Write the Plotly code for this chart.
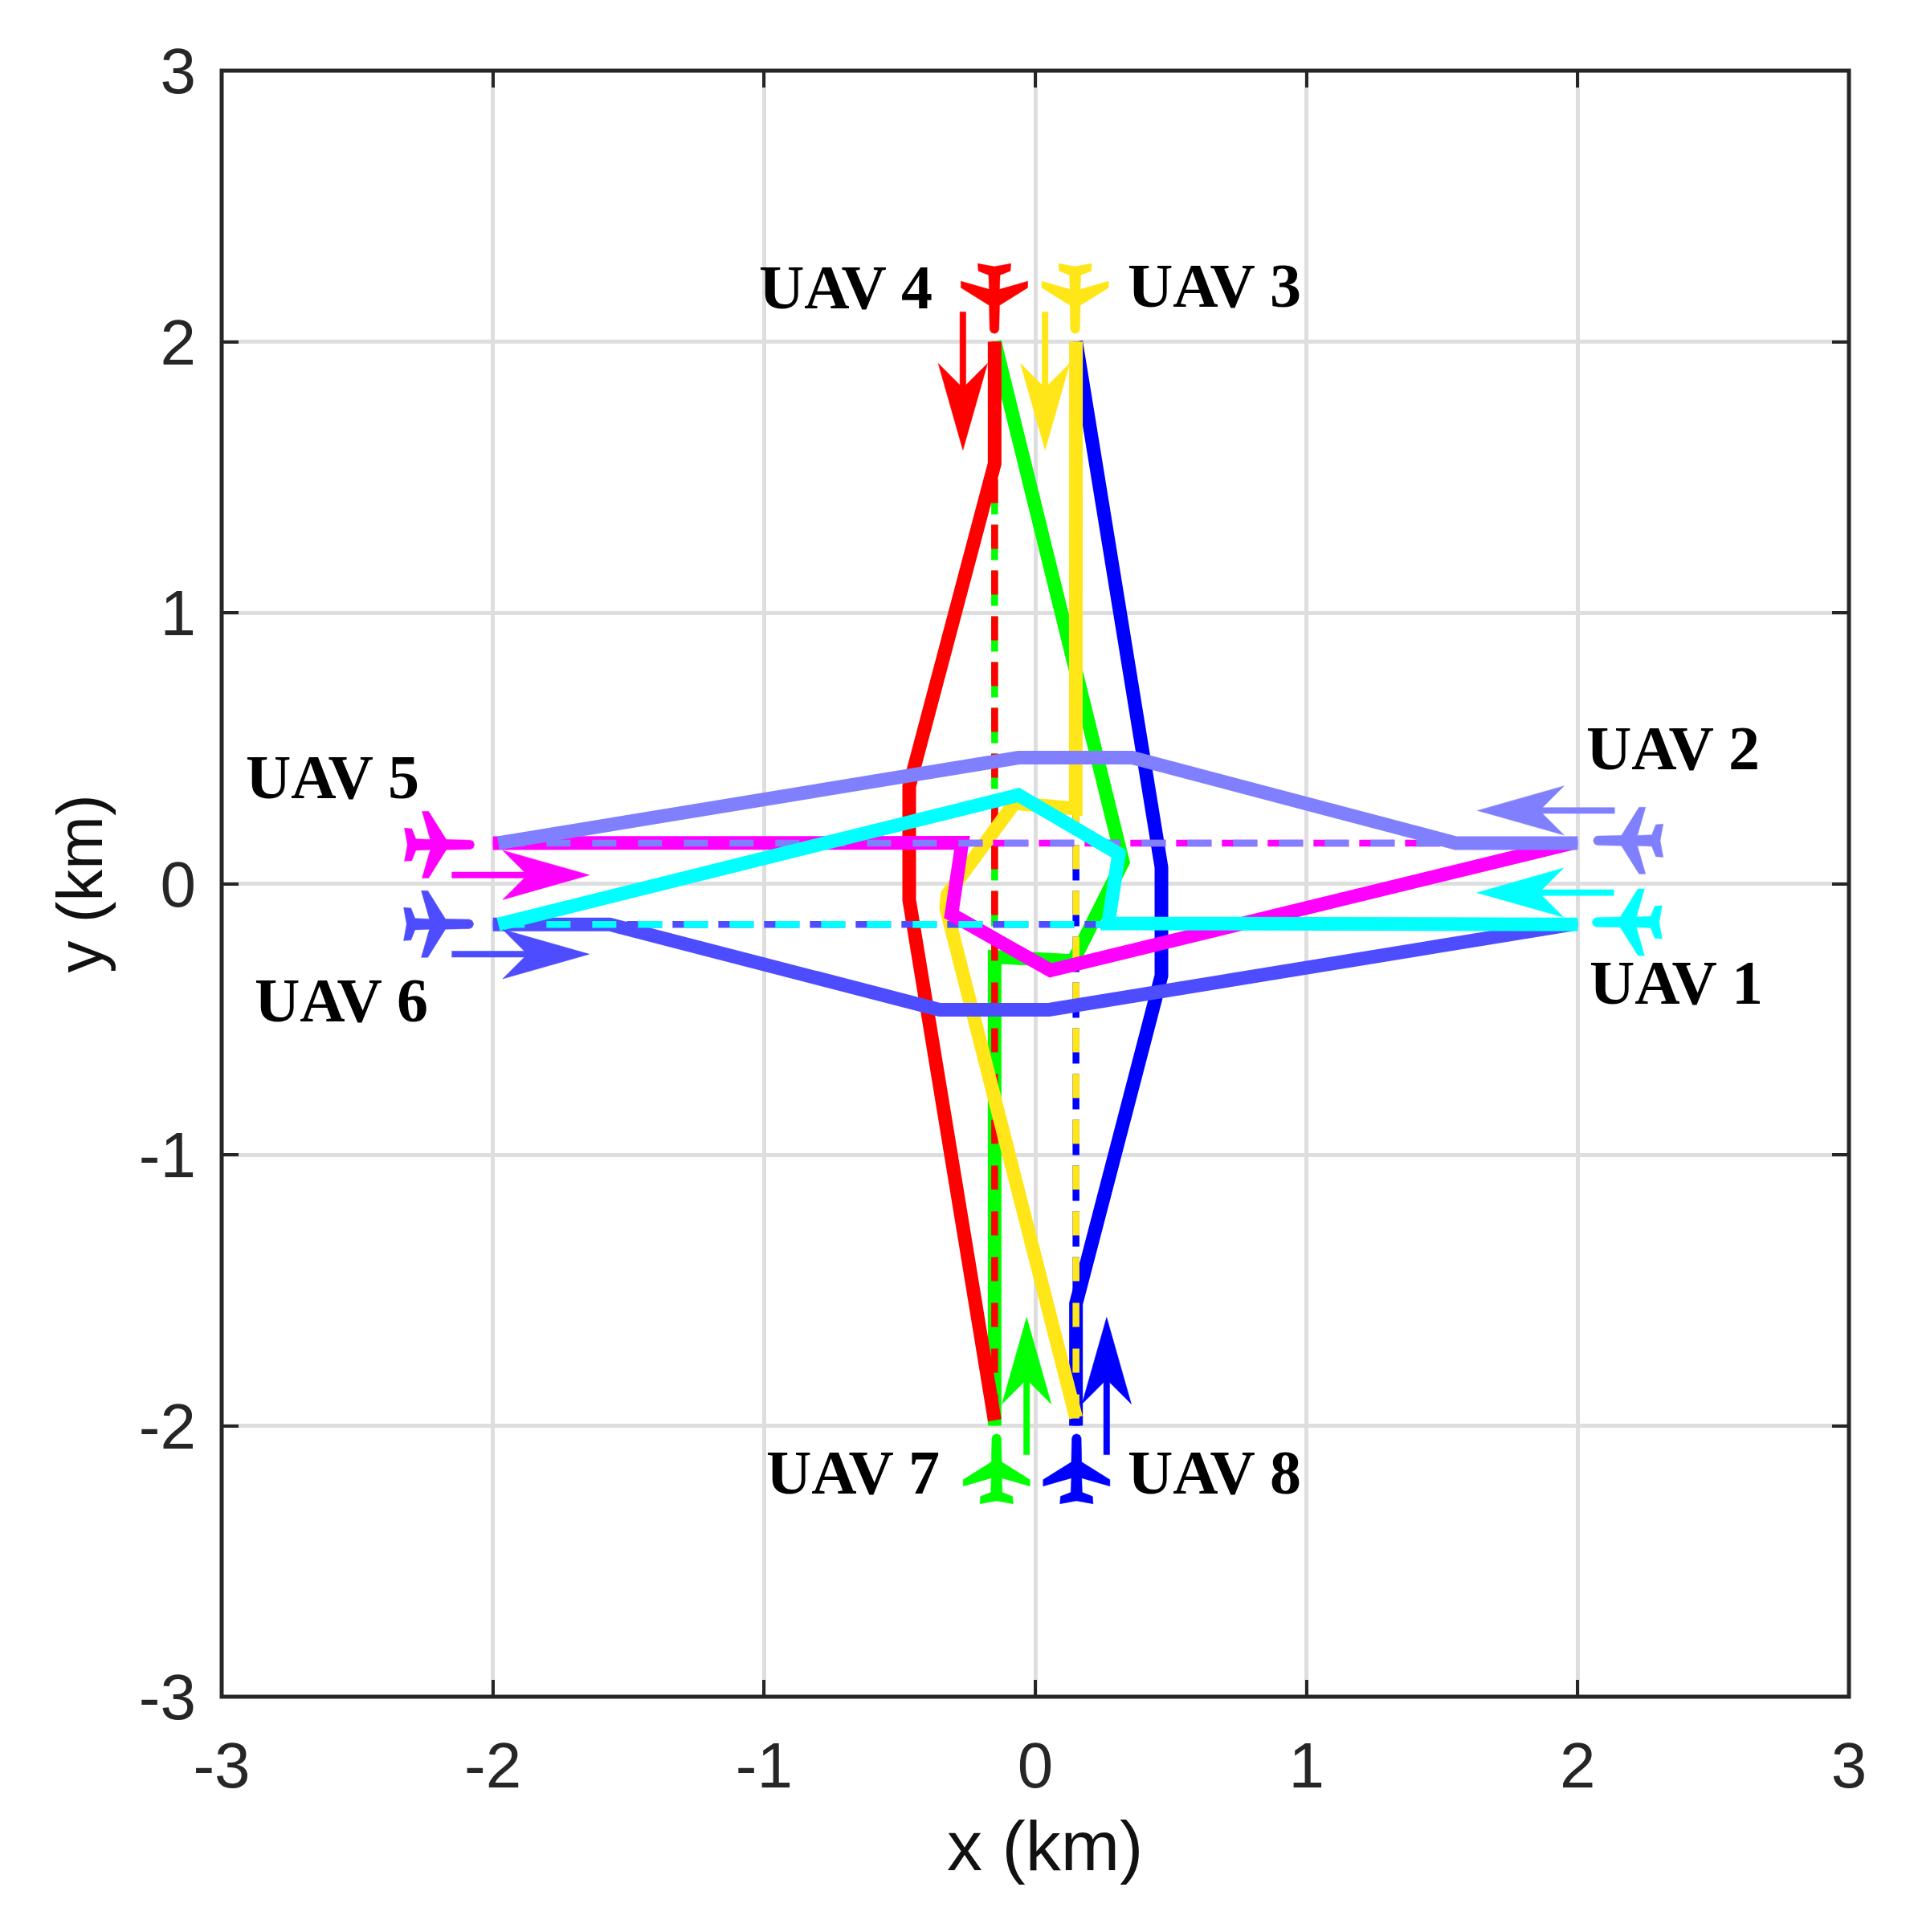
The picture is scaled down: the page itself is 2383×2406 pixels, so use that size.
import plotly.graph_objects as go
import numpy as np

# Planned (dashed) routes: start and end of each UAV
planned_x = {"8": [0.15, 0.15], "7": [-0.15, -0.15], "3": [0.15, 0.15], "4": [-0.15, -0.15],
             "6": [2, -2], "5": [2, -2], "2": [2, -2], "1": [2, -2]}
planned_y = {"8": [2, -2], "7": [2, -2], "3": [2, -2], "4": [2, -2],
             "6": [-0.15, -0.15], "5": [0.15, 0.15], "2": [0.15, 0.15], "1": [-0.15, -0.15]}

# Avoidance (solid) routes
uav1_x = [2, 0.269, 0.308, -0.062, -1.98]
uav1_y = [-0.15, -0.147, 0.11, 0.327, -0.15]
uav2_x = [2, 1.55, 0.357, -0.062, -1.98]
uav2_y = [0.15, 0.15, 0.465, 0.465, 0.15]
uav3_x = [0.15, 0.149, -0.077, -0.324, -0.329, 0.15]
uav3_y = [2, 0.277, 0.297, -0.04, -0.09, -1.97]
uav4_x = [-0.15, -0.15, -0.465, -0.465, -0.15]
uav4_y = [2, 1.55, 0.36, -0.06, -1.98]
uav5_x = [-2, -0.27, -0.309, 0.056, 1.98]
uav5_y = [0.15, 0.151, -0.113, -0.32, 0.15]
uav6_x = [-2, -1.57, -0.353, 0.051, 1.98]
uav6_y = [-0.15, -0.15, -0.465, -0.465, -0.15]
uav7_x = [-0.15, -0.15, 0.14, 0.323, -0.15]
uav7_y = [-2, -0.27, -0.285, 0.08, 2]
uav8_x = [0.15, 0.15, 0.465, 0.465, 0.15]
uav8_y = [-2, -1.55, -0.34, 0.06, 2]

colors = {"1": "#00FFFF", "2": "#8080FF", "3": "#FFE619", "4": "#FF0000",
          "5": "#FF00FF", "6": "#4D4DFF", "7": "#00FF00", "8": "#0000FF"}
solid = {"1": (uav1_x, uav1_y), "2": (uav2_x, uav2_y), "3": (uav3_x, uav3_y), "4": (uav4_x, uav4_y),
         "5": (uav5_x, uav5_y), "6": (uav6_x, uav6_y), "7": (uav7_x, uav7_y), "8": (uav8_x, uav8_y)}

# Aircraft icon: nose position and heading
plane_nose = {"1": (2.053, -0.142), "2": (2.057, 0.159), "3": (0.147, 2.03), "4": (-0.151, 2.03),
              "5": (-2.068, 0.144), "6": (-2.071, -0.149), "7": (-0.143, -2.03), "8": (0.152, -2.03)}
plane_dir = {"1": (-1, 0), "2": (-1, 0), "3": (0, -1), "4": (0, -1),
             "5": (1, 0), "6": (1, 0), "7": (0, 1), "8": (0, 1)}
# icon outline, half: distance behind the nose, distance off the axis (km)
icon_along = [0.0, 0.005, 0.015, 0.104, 0.169, 0.193, 0.163, 0.216, 0.231, 0.258, 0.247]
icon_side = [0.0, 0.012, 0.017, 0.019, 0.123, 0.123, 0.019, 0.021, 0.059, 0.061, 0.0]

# Direction arrows: tail and tip
arrow_tail = {"1": (2.133, -0.033), "2": (2.136, 0.27), "3": (0.036, 2.11), "4": (-0.267, 2.11),
              "5": (-2.151, 0.032), "6": (-2.151, -0.26), "7": (-0.032, -2.107), "8": (0.263, -2.107)}
arrow_tip = {"1": (1.628, -0.033), "2": (1.63, 0.27), "3": (0.036, 1.6), "4": (-0.267, 1.6),
             "5": (-1.644, 0.032), "6": (-1.644, -0.26), "7": (-0.032, -1.6), "8": (0.263, -1.6)}

label_text = {k: "UAV " + k for k in colors}
label_x = {"1": 2.364, "2": 2.35, "3": 0.66, "4": -0.70, "5": -2.59, "6": -2.56, "7": -0.673, "8": 0.66}
label_y = {"1": -0.364, "2": 0.502, "3": 2.207, "4": 2.202, "5": 0.393, "6": -0.43, "7": -2.171, "8": -2.171}

tick_vals = [-3, -2, -1, 0, 1, 2, 3]

fig = go.Figure()


def dashed(k):
    long_dash = k in ("8", "7", "6", "5")
    fig.add_trace(go.Scatter(x=planned_x[k], y=planned_y[k], mode="lines", showlegend=False, hoverinfo="skip",
                             line=dict(color=colors[k], width=8.5, dash="44px,13px" if long_dash else "30px,27px")))


def route(k):
    fig.add_trace(go.Scatter(x=solid[k][0], y=solid[k][1], mode="lines", showlegend=False, hoverinfo="skip",
                             line=dict(color=colors[k], width=17, shape="linear")))


def poly(xs, ys, k):
    fig.add_trace(go.Scatter(x=list(xs) + [xs[0]], y=list(ys) + [ys[0]], mode="lines", fill="toself",
                             fillcolor=colors[k], line=dict(color=colors[k], width=0.5),
                             showlegend=False, hoverinfo="skip"))


# draw in the same stacking order as the picture
for group in (("8", "7"), ("3", "4"), ("6", "5"), ("2", "1")):
    for k in group:
        dashed(k)
    for k in group:
        route(k)

for k in colors:
    # aircraft
    nx, ny = plane_nose[k]
    dx, dy = plane_dir[k]
    a = np.array(icon_along + icon_along[-2:0:-1])
    s = np.array(icon_side + [-v for v in icon_side[-2:0:-1]])
    poly(nx - a * dx - s * dy, ny - a * dy + s * dx, k)
    # arrow
    tx, ty = arrow_tail[k]
    px, py = arrow_tip[k]
    L = np.hypot(px - tx, py - ty)
    ux, uy = (px - tx) / L, (py - ty) / L
    vx, vy = -uy, ux
    along = np.array([0, L - 0.24, L - 0.32, L, L - 0.32, L - 0.24, 0])
    side = np.array([0.011, 0.011, 0.091, 0, -0.091, -0.011, -0.011])
    poly(tx + along * ux + side * vx, ty + along * uy + side * vy, k)
    fig.add_annotation(x=label_x[k], y=label_y[k], text="<b>" + label_text[k] + "</b>", showarrow=False,
                       xanchor="center", yanchor="middle",
                       font=dict(family="Liberation Serif", size=78, color="black"))

# box round the axes, centred on the limits
fig.add_shape(type="rect", xref="paper", yref="paper", x0=0, x1=1, y0=0, y1=1,
              line=dict(color="#262626", width=5), fillcolor="rgba(0,0,0,0)", layer="above")

axis = dict(range=[-3, 3], tickvals=tick_vals, ticktext=[str(v) for v in tick_vals],
            showgrid=True, gridcolor="#DEDEDE", gridwidth=5, zeroline=False,
            showline=False, mirror="ticks",
            ticks="inside", ticklen=21, tickwidth=4, tickcolor="#262626",
            tickfont=dict(family="Liberation Sans", size=80, color="#262626"))

fig.update_layout(
    width=2383, height=2406, autosize=False,
    margin=dict(l=276, r=81, t=88, b=293, autoexpand=False),
    paper_bgcolor="white", plot_bgcolor="white", showlegend=False,
    xaxis=dict(axis, ticklabelstandoff=32,
               title=dict(text="\u200b\u00a0x (km)", standoff=25, font=dict(family="Liberation Sans", size=88, color="#111111"))),
    yaxis=dict(axis, ticklabelstandoff=31,
               title=dict(text="y (km)", standoff=18, font=dict(family="Liberation Sans", size=80, color="#111111"))),
)
fig.write_html("out.html", config={"displayModeBar": False}, post_script="document.body.style.margin='0';")
